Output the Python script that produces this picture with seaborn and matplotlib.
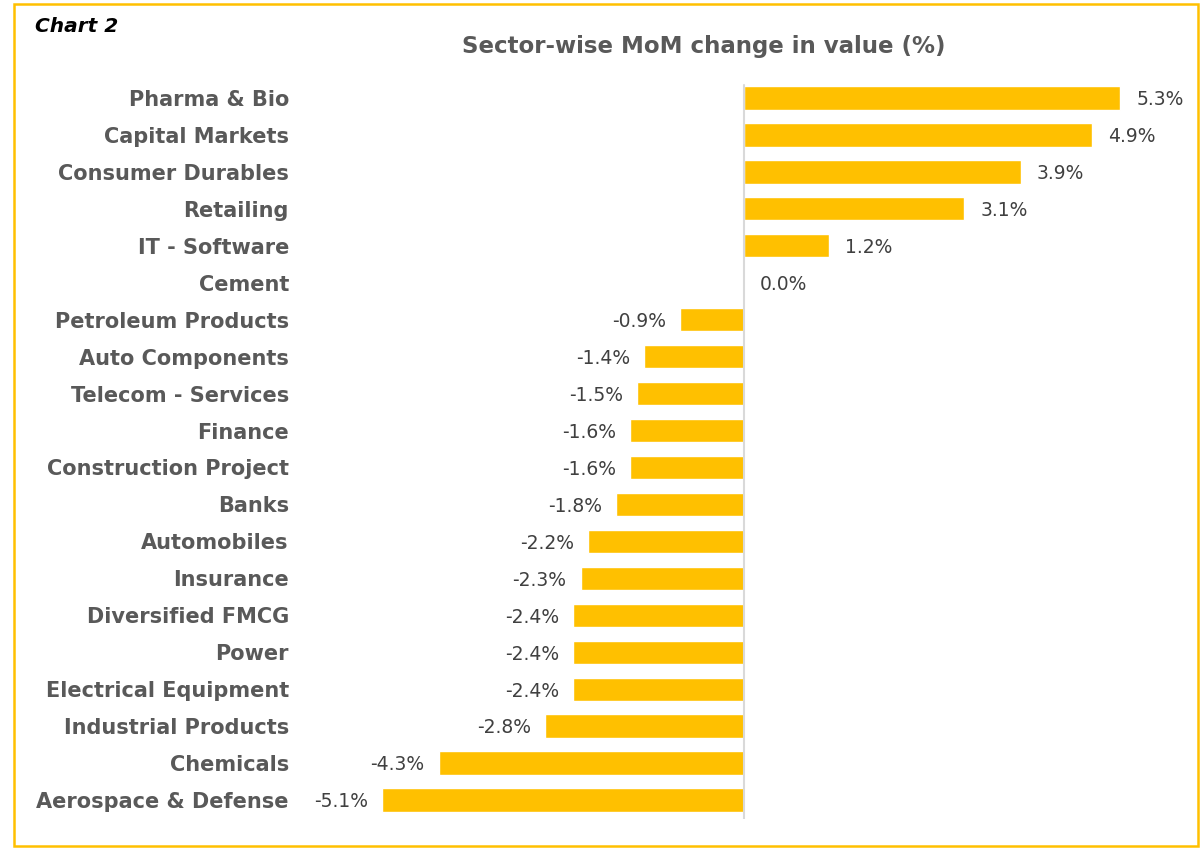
import matplotlib
matplotlib.use("Agg")
import matplotlib.pyplot as plt
import seaborn as sns
import pandas as pd
from matplotlib.patches import Rectangle

sectors = ["Pharma & Bio", "Capital Markets", "Consumer Durables", "Retailing",
           "IT - Software", "Cement", "Petroleum Products", "Auto Components",
           "Telecom - Services", "Finance", "Construction Project", "Banks",
           "Automobiles", "Insurance", "Diversified FMCG", "Power",
           "Electrical Equipment", "Industrial Products", "Chemicals",
           "Aerospace & Defense"]
values = [5.3, 4.9, 3.9, 3.1, 1.2, 0.0, -0.9, -1.4, -1.5, -1.6, -1.6, -1.8,
          -2.2, -2.3, -2.4, -2.4, -2.4, -2.8, -4.3, -5.1]

df = pd.DataFrame({"sector": sectors, "value": values})

sns.set_theme(style="white")
plt.rcParams['font.family'] = ['DejaVu Sans']

W, H = 1204, 851
fig = plt.figure(figsize=(W / 100, H / 100), dpi=100)
ax = fig.add_axes([300 / W, 1 - 818.5 / H, 890 / W, (818.5 - 79.5) / H])

sns.barplot(data=df, x="value", y="sector", color="#FFC000", saturation=1,
            width=0.63, orient="h", ax=ax)

ax.set_xlim(-6.25, 6.28)
ax.set_ylim(19.5, -0.5)
ax.axvline(0, color="#D9D9D9", lw=1.5, ymin=0, ymax=0.992, zorder=3)
for s in ax.spines.values():
    s.set_visible(False)
ax.set_xticks([])
ax.set_xlabel("")
ax.set_ylabel("")
ax.tick_params(axis="y", length=0, pad=8)
for lab in ax.get_yticklabels():
    lab.set_fontweight("bold")
    lab.set_color("#595959")
    lab.set_fontsize(15)

px = 6.28 / 446  # data units per pixel
for i, v in enumerate(values):
    if v >= 0:
        ax.text(v + 16 * px, i + 0.05, f"{v:.1f}%", ha="left", va="center",
                fontsize=13.5, color="#404040")
    else:
        ax.text(v - 14 * px, i + 0.05, f"-{abs(v):.1f}%", ha="right",
                va="center", fontsize=13.5, color="#404040")

fig.text(704 / W, 1 - 47 / H, "Sector-wise MoM change in value (%)",
         ha="center", va="center", fontsize=16.5, fontweight="bold",
         color="#595959")
fig.text(35 / W, 1 - 27 / H, "Chart 2", ha="left", va="center", fontsize=14.5,
         fontweight="bold", fontstyle="italic", color="black")

fig.patches.append(Rectangle((14 / W, 1 - 846 / H), (1198 - 14) / W,
                             (846 - 4) / H, transform=fig.transFigure,
                             fill=False, edgecolor="#FFC000", lw=1.8))

fig.savefig("out.png", dpi=100)
